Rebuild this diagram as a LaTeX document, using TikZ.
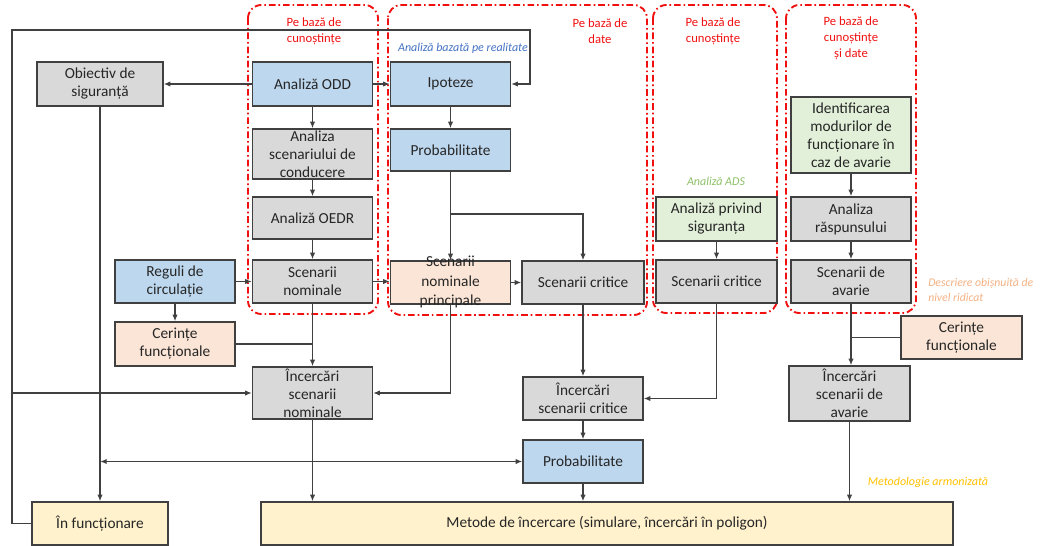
\documentclass[tikz,border=0pt]{standalone}
\usepackage{fontspec}
\setmainfont{Carlito}
\usetikzlibrary{arrows.meta}
\definecolor{cgray}{HTML}{D9D9D9}
\definecolor{cblue}{HTML}{BDD7EE}
\definecolor{cpeach}{HTML}{FBE5D6}
\definecolor{cgreen}{HTML}{E2F0D9}
\definecolor{cyellow}{HTML}{FFF2CC}
\definecolor{cline}{HTML}{404040}
\definecolor{ctext}{HTML}{262626}
\definecolor{lblblue}{HTML}{4472C4}
\definecolor{lblgreen}{HTML}{8CC068}
\definecolor{lblorange}{HTML}{F4B183}
\definecolor{lblgold}{HTML}{FFC000}
\definecolor{grpred}{HTML}{F01010}
\begin{document}
\begin{tikzpicture}[x=0.75pt,y=-0.75pt,
  bx/.style={draw=cline, line width=1pt, inner sep=0pt, align=center, text=ctext,
    font=\fontsize{11.5}{13.5}\selectfont},
  sz/.style 2 args={minimum width=#1*0.75pt, minimum height=#2*0.75pt},
  txt/.style={inner sep=0pt, align=center, text=ctext, font=\fontsize{11.5}{13.5}\selectfont},
  conn/.style={draw=cline, line width=1.25pt, -{Latex[length=5pt,width=4pt]}},
  biconn/.style={draw=cline, line width=1.25pt, {Latex[length=5pt,width=4pt]}-{Latex[length=5pt,width=4pt]}},
  plain/.style={draw=cline, line width=1.25pt},
  grp/.style={draw=grpred, line width=1.4pt, rounded corners=10pt,
    dash pattern=on 5pt off 2.2pt on 1.2pt off 2.2pt},
  grplbl/.style={text=grpred, align=center, inner sep=0pt, font=\fontsize{9.5}{12}\selectfont},
  note/.style={inner sep=0pt, font=\fontsize{9}{11.25}\selectfont\itshape}
]
\useasboundingbox (0,0) rectangle (1040,546);

% groups
\draw[grp] (248,5) rectangle (378,314);
\draw[grp] (388,5) rectangle (647,315);
\draw[grp] (653,5) rectangle (777,313);
\draw[grp] (786,5) rectangle (916,313);
\node[grplbl] (g1) at (314,31) {Pe bază de\\cunoștințe};
\node[grplbl] (g2) at (600,31) {Pe bază de\\date};
\node[grplbl] (g3) at (713,31) {Pe bază de\\cunoștințe};
\node[grplbl] (g4) at (851,38.5) {Pe bază de\\cunoștințe\\și date};

% notes
\node[note, text=lblblue] (n1) at (463,48) {Analiză bazată pe realitate};
\node[note, text=lblgreen] (n2) at (716,181) {Analiză ADS};
\node[note, text=lblorange, anchor=west, align=left, font=\fontsize{8.8}{11.25}\selectfont\itshape] (n3) at (928,289.5) {Descriere obișnuită de\\nivel ridicat};
\node[note, text=lblgold] (n4) at (928,482) {Metodologie armonizată};

% boxes
\node[bx, fill=cgray, sz={126}{44}] (obj) at (100,84) {Obiectiv de\\siguranță};
\node[bx, fill=cblue, sz={120}{44}] (odd) at (312.5,84) {Analiză ODD};
\node[bx, fill=cgray, sz={120}{50}] (asc) at (312.5,154) {Analiza\\scenariului de\\conducere};
\node[bx, fill=cgray, sz={120}{42}] (oedr) at (312.5,218) {Analiză OEDR};
\node[bx, fill=cgray, sz={120}{43}] (snom) at (312.5,281.5) {Scenarii\\nominale};
\node[bx, fill=cblue, sz={120}{43}] (reg) at (175,281.5) {Reguli de\\circulație};
\node[bx, fill=cpeach, sz={120}{44}] (cer1) at (175,344) {Cerințe\\funcționale};
\node[bx, fill=cgray, sz={120}{52}] (inom) at (312.5,393) {Încercări\\scenarii\\nominale};
\node[bx, fill=cyellow, sz={136}{43}] (infc) at (100,523.5) {În funcționare};
\node[bx, fill=cyellow, sz={692}{43}] (met) at (607,523.5) {Metode de încercare (simulare, încercări în poligon)};
\node[bx, fill=cblue, sz={120}{44}] (ipo) at (450.5,84) {Ipoteze};
\node[bx, fill=cblue, sz={120}{42}] (prob1) at (450.5,150) {Probabilitate};
\node[bx, fill=cpeach, sz={120}{43}] (snp) at (450.5,282.5) {};
\node[txt] (snptxt) at (450.5,282) {Scenarii\\[1pt]nominale\\[1pt]principale};
\node[bx, fill=cgray, sz={122}{43}] (scr1) at (583,282.5) {Scenarii critice};
\node[bx, fill=cgreen, sz={121}{44}] (aps) at (716.5,219) {Analiză privind\\siguranța};
\node[bx, fill=cgray, sz={121}{43}] (scr2) at (716.5,281.5) {Scenarii critice};
\node[bx, fill=cgreen, sz={120}{76}] (idm) at (851,135) {Identificarea\\modurilor de\\funcționare în\\caz de avarie};
\node[bx, fill=cgray, sz={120}{44}] (ars) at (851,219) {Analiza\\răspunsului};
\node[bx, fill=cgray, sz={120}{43}] (sav) at (851,281.5) {Scenarii de\\avarie};
\node[bx, fill=cpeach, sz={121}{43}] (cer2) at (961.5,337.5) {Cerințe\\funcționale};
\node[bx, fill=cgray, sz={121}{55}] (iav) at (849.5,393.5) {Încercări\\scenarii de\\avarie};
\node[bx, fill=cgray, sz={120}{43}] (icr) at (583,398.5) {Încercări\\scenarii critice};
\node[bx, fill=cblue, sz={120}{43}] (prob2) at (583,461.5) {Probabilitate};

% helper coordinates
\coordinate (lpBL) at (12,523.5);
\coordinate (lpTL) at (12,30);
\coordinate (lpTR) at (530,30);
\coordinate (pbr) at (450.5,214);

% connectors
\draw[conn] (odd.west) -- (obj.east);
\draw[conn] (odd.east) -- (ipo.west);
\draw[conn] (infc.west) -- (lpBL) -- (lpTL) -- (lpTR) |- (ipo.east);
\draw[conn] (lpBL |- inom.west) -- (inom.west);
\draw[conn] (odd) -- (asc);
\draw[conn] (asc) -- (oedr);
\draw[conn] (oedr) -- (snom);
\draw[conn] (reg.east) -- (snom.west);
\draw[conn] (reg) -- (cer1);
\draw[conn] (snom.east) -- (snom.east -| snp.west);
\draw[conn] (snom) -- (inom);
\draw[plain] (cer1.east) -- (snom.south |- cer1.east);
\draw[conn] (ipo) -- (prob1);
\draw[conn] (prob1) -- (snp);
\draw[conn] (pbr) -| (scr1.north);
\draw[conn] (snp.east) -- (scr1.west);
\draw[conn] (snp.south) |- (inom.east);
\draw[conn] (scr1) -- (icr);
\draw[conn] (scr2.south) |- (icr.east);
\draw[conn] (aps) -- (scr2);
\draw[conn] (idm) -- (ars);
\draw[conn] (ars) -- (sav);
\draw[conn] (sav.south) -- (sav.south |- iav.north);
\draw[plain] (cer2.west) -- (sav.south |- cer2.west);
\draw[conn] (icr) -- (prob2);
\draw[conn] (prob2.south) -- (prob2.south |- met.north);
\draw[conn] (iav.south) -- (iav.south |- met.north);
\draw[conn] (inom.south) -- (inom.south |- met.north);
\draw[conn] (obj.south) -- (infc.north);
\draw[biconn] (obj.south |- prob2.west) -- (prob2.west);
\end{tikzpicture}
\end{document}
